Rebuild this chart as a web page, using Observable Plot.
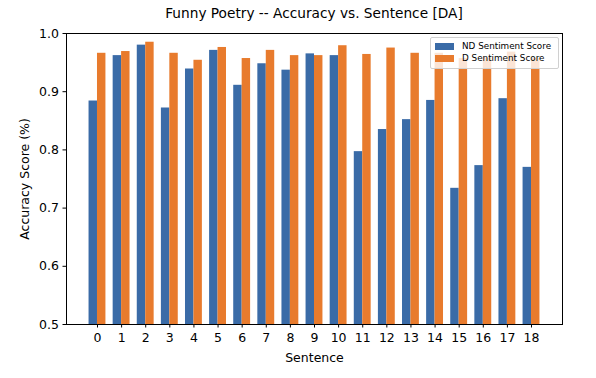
<!DOCTYPE html>
<html>
<head>
<meta charset="utf-8">
<script src="https://cdn.jsdelivr.net/npm/d3@7"></script>
<script src="https://cdn.jsdelivr.net/npm/@observablehq/plot@0.6"></script>
<style>
  html, body { margin: 0; padding: 0; background: #fff; }
  #wrap { position: relative; width: 596px; height: 378px; font-family: "DejaVu Sans", sans-serif; }
  #title { position: absolute; left: 66px; width: 496px; top: 5px; text-align: center; font-size: 13.7px; color: #000; }
  #legend { position: absolute; left: 430px; top: 37px; width: 127px; height: 30px; border: 1px solid #d0d0d0; border-radius: 2px; background: rgba(255,255,255,0.8); font-size: 8.8px; color: #000; }
  .row { position: absolute; left: 4px; display: flex; align-items: center; }
  .sw { width: 19px; height: 7px; margin-right: 8px; }
</style>
</head>
<body>
<div id="wrap">
  <div id="chart"></div>
  <div id="title">Funny Poetry -- Accuracy vs. Sentence [DA]</div>
  <div id="legend"></div>
</div>
<script>
const categories = ["0","1","2","3","4","5","6","7","8","9","10","11","12","13","14","15","16","17","18"];
const ndScores = [0.884, 0.962, 0.980, 0.872, 0.939, 0.971, 0.911, 0.948, 0.937, 0.965, 0.962, 0.797, 0.835, 0.852, 0.885, 0.734, 0.773, 0.888, 0.770];
const dScores  = [0.966, 0.969, 0.985, 0.966, 0.954, 0.976, 0.957, 0.971, 0.962, 0.962, 0.979, 0.964, 0.975, 0.966, 0.966, 0.957, 0.958, 0.968, 0.957];
const seriesNames = ["ND Sentiment Score", "D Sentiment Score"];
const colors = ["#3a6ba7", "#e87b2d"];
const yTicks = [0.5, 0.6, 0.7, 0.8, 0.9, 1.0];
const barWidth = 0.35;
const yMin = 0.5, yMax = 1.0;

const rows = [];
categories.forEach((c, i) => {
  rows.push({series: seriesNames[0], x1: i - barWidth, x2: i, value: ndScores[i]});
  rows.push({series: seriesNames[1], x1: i, x2: i + barWidth, value: dScores[i]});
});
const n = categories.length;
const span = (n - 1) + 2 * barWidth;
const xDomain = [-barWidth - 0.05 * span, (n - 1) + barWidth + 0.05 * span];

const chart = Plot.plot({
  width: 596,
  height: 378,
  marginLeft: 66,
  marginRight: 34,
  marginTop: 33,
  marginBottom: 54,
  style: { fontFamily: "DejaVu Sans, sans-serif", fontSize: "12px", color: "#000", background: "#fff" },
  x: { type: "linear", domain: xDomain },
  y: { domain: [yMin, yMax] },
  color: { domain: seriesNames, range: colors },
  marks: [
    Plot.rect(rows, { x1: "x1", x2: "x2", y1: yMin, y2: "value", fill: "series", clip: true }),
    Plot.frame({ stroke: "#000", strokeWidth: 1 }),
    Plot.axisX({ ticks: categories.map((c, i) => i), tickFormat: i => categories[i], tickSize: 3.5, tickPadding: 5.5, fontSize: 12.5, label: "Sentence", labelAnchor: "center", labelOffset: 37, labelArrow: "none" }),
    Plot.axisY({ ticks: yTicks, tickFormat: d3.format(".1f"), tickSize: 3.5, tickPadding: 4, fontSize: 12.5, label: "Accuracy Score (%)", labelAnchor: "center", labelOffset: 46, labelArrow: "none" })
  ]
});
document.getElementById("chart").appendChild(chart);

const legend = document.getElementById("legend");
seriesNames.forEach((name, k) => {
  const r = document.createElement("div");
  r.className = "row";
  r.style.top = (3 + k * 12) + "px";
  r.innerHTML = `<div class="sw" style="background:${colors[k]}"></div><span>${name}</span>`;
  legend.appendChild(r);
});
</script>
</body>
</html>
